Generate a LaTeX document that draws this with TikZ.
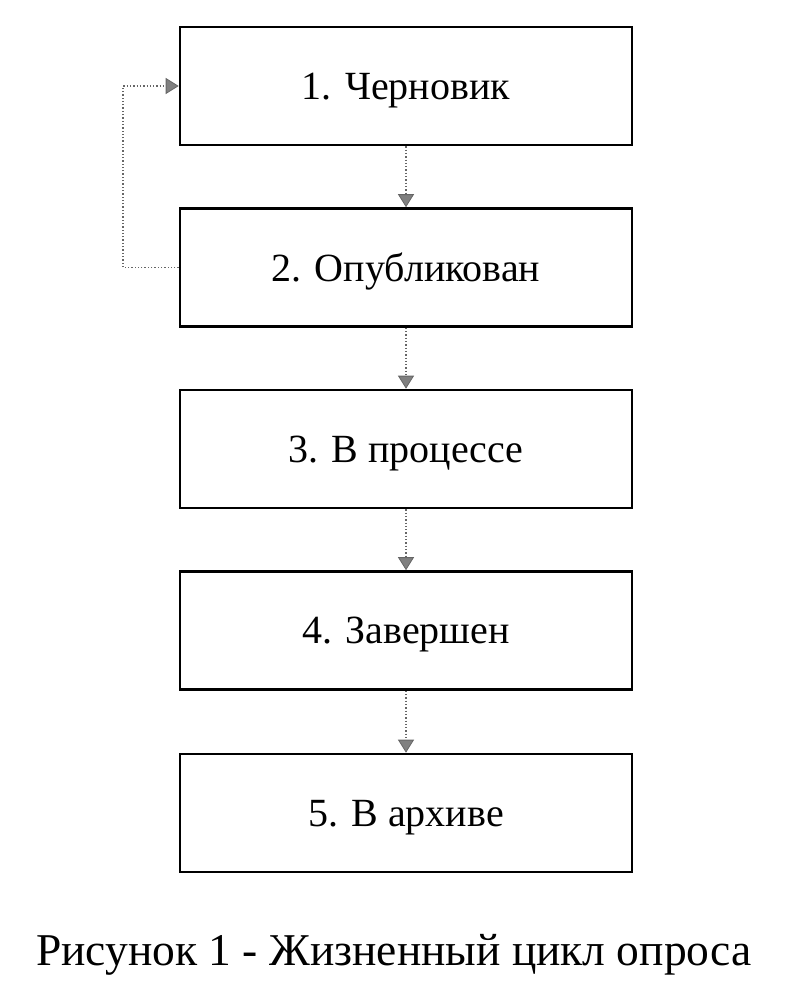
\documentclass[tikz,border=0pt]{standalone}
\usepackage{fontspec}
\setmainfont{Liberation Serif}
\usetikzlibrary{arrows.meta}
\begin{document}
\begin{tikzpicture}[x=1pt,y=-1pt,
  stage/.style={draw=black,line width=2.6pt,minimum width=452pt,minimum height=118pt,inner sep=0pt,text depth=0pt,font=\fontsize{40}{44}\selectfont},
  flow/.style={draw=black!60,line width=1.3pt,dotted,-{Triangle[width=16pt,length=13pt,fill=black!50,line width=0.8pt]}}]
\useasboundingbox (0,0) rectangle (795,991);
\node[stage] (s1) at (406,86) {1. Черновик};
\node[stage] (s2) at (406,267.5) {2. Опубликован};
\node[stage] (s3) at (406,449) {3. В процессе};
\node[stage] (s4) at (406,630.5) {4. Завершен};
\node[stage] (s5) at (406,813) {5. В архиве};
\node[font=\fontsize{45.5}{50}\selectfont] (cap) at (394,955) {Рисунок 1 - Жизненный цикл опроса};
\coordinate (lb) at (123,267.5);
\coordinate (lt) at (123,86);
\draw[flow] (s1.south) -- (s2.north);
\draw[flow] (s2.south) -- (s3.north);
\draw[flow] (s3.south) -- (s4.north);
\draw[flow] (s4.south) -- (s5.north);
\draw[flow] (s2.west) -- (lb) -- (lt) -- (s1.west);
\end{tikzpicture}
\end{document}
